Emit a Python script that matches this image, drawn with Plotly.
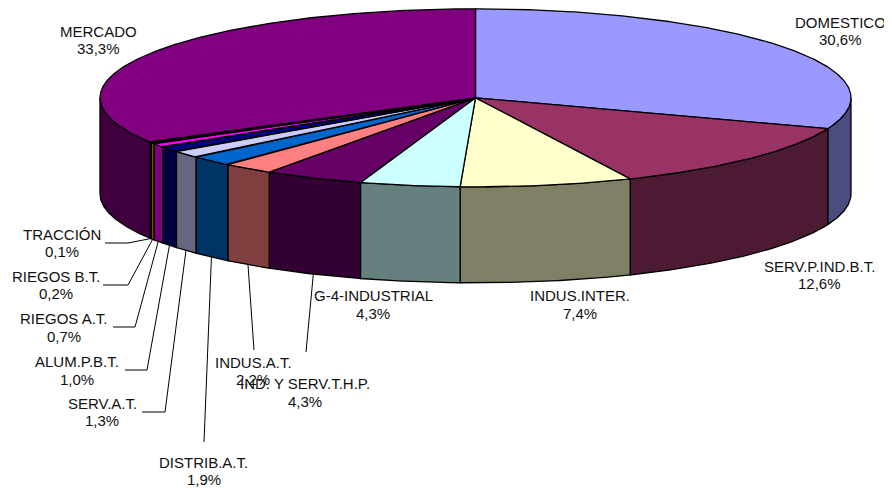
import numpy as np
import plotly.graph_objects as go

# ---- data ----
labels = ["DOMESTICO", "SERV.P.IND.B.T.", "INDUS.INTER.", "G-4-INDUSTRIAL",
          "IND. Y SERV.T.H.P.", "INDUS.A.T.", "DISTRIB.A.T.", "SERV.A.T.",
          "ALUM.P.B.T.", "RIEGOS A.T.", "RIEGOS B.T.", "TRACCIÓN", "MERCADO"]
values = [30.6, 12.6, 7.4, 4.3, 4.3, 2.2, 1.9, 1.3, 1.0, 0.7, 0.2, 0.1, 33.3]
pct_text = ["30,6%", "12,6%", "7,4%", "4,3%", "4,3%", "2,2%", "1,9%", "1,3%",
            "1,0%", "0,7%", "0,2%", "0,1%", "33,3%"]
top_colors = ["#9999FF", "#993366", "#FFFFCC", "#CCFFFF", "#660066", "#FF8080",
              "#0066CC", "#CCCCFF", "#000080", "#FF00FF", "#FFFF00", "#00FFFF", "#800080"]
side_colors = ["#4C4C80", "#4D1A33", "#808066", "#668080", "#330033", "#804040",
               "#003366", "#666680", "#000040", "#800080", "#808000", "#008080", "#400040"]

# ---- layout constants (page pixel space; body has 8px margin) ----
PAGE_W, PAGE_H = 892, 488
OFF = 8
CX, CY, RX, RY, DEPTH = 475.5, 97.8, 375.5, 89, 96
PITCH = 17.5
FONT = dict(family="Liberation Sans, Arial", size=15, color="#111111")

# centre of the name line of each label
label_pos = {
    "DOMESTICO": (840, 22), "SERV.P.IND.B.T.": (819, 266), "INDUS.INTER.": (580, 295.5),
    "G-4-INDUSTRIAL": (373, 295.5), "IND. Y SERV.T.H.P.": (305, 383.5), "INDUS.A.T.": (253, 362),
    "DISTRIB.A.T.": (203.5, 462), "SERV.A.T.": (102, 403), "ALUM.P.B.T.": (77, 361.5),
    "RIEGOS A.T.": (63.5, 318.5), "RIEGOS B.T.": (55.5, 276), "TRACCIÓN": (61.5, 234),
    "MERCADO": (98, 31),
}
# leader start: (x0, y0, x1) -> horizontal from x0 to x1 at y0, then to the slice
leaders = {
    "TRACCIÓN": (105, 243, 128), "RIEGOS B.T.": (103, 285, 128),
    "RIEGOS A.T.": (113, 327, 135), "ALUM.P.B.T.": (125, 370, 147),
    "SERV.A.T.": (142, 412, 165), "DISTRIB.A.T.": (204, 442, 204),
    "INDUS.A.T.": (254, 350, 254), "IND. Y SERV.T.H.P.": (306, 352, 306),
}


def pt(theta_deg, dy=0.0):
    t = np.radians(theta_deg)
    return CX + RX * np.sin(t), CY - RY * np.cos(t) + dy


fig = go.Figure()
total = sum(values)
angles = []
cum = 0.0
for v in values:
    a0 = cum / total * 360
    cum += v
    a1 = cum / total * 360
    angles.append((a0, a1))

LINE = dict(color="black", width=1.3)

# side walls (front half only)
for i, (a0, a1) in enumerate(angles):
    lo, hi = max(a0, 90), min(a1, 270)
    if hi > lo:
        th = np.linspace(lo, hi, max(2, int((hi - lo) * 3) + 2))
        xt, yt = pt(th)
        xb, yb = pt(th[::-1], DEPTH)
        xs = np.concatenate([xt, xb, [xt[0]]])
        ys = np.concatenate([yt, yb, [yt[0]]])
        fig.add_trace(go.Scatter(x=xs, y=ys, mode="lines", fill="toself",
                                 fillcolor=side_colors[i], line=LINE,
                                 hoverinfo="skip", showlegend=False))

# top faces
for i, (a0, a1) in enumerate(angles):
    th = np.linspace(a0, a1, max(2, int((a1 - a0) * 3) + 2))
    xt, yt = pt(th)
    xs = np.concatenate([[CX], xt, [CX]])
    ys = np.concatenate([[CY], yt, [CY]])
    fig.add_trace(go.Scatter(x=xs, y=ys, mode="lines", fill="toself",
                             fillcolor=top_colors[i], line=LINE,
                             hoverinfo="text", text=f"{labels[i]} {pct_text[i]}",
                             showlegend=False))

# leader lines
for i, lab in enumerate(labels):
    if lab in leaders:
        x0, y0, x1 = leaders[lab]
        a0, a1 = angles[i]
        ax, ay = pt((a0 + a1) / 2, DEPTH)
        fig.add_trace(go.Scatter(x=[x0, x1, ax], y=[y0, y0, ay], mode="lines",
                                 line=dict(color="black", width=1),
                                 hoverinfo="skip", showlegend=False))

# labels (name line + percentage line)
for i, lab in enumerate(labels):
    x, y = label_pos[lab]
    for k, txt in enumerate([lab, pct_text[i]]):
        fig.add_annotation(x=x, y=y + k * PITCH, xref="x", yref="y", text=txt,
                           showarrow=False, xanchor="center", yanchor="middle",
                           font=FONT)

fig.update_layout(
    width=PAGE_W - OFF, height=PAGE_H - OFF, margin=dict(l=0, r=0, t=0, b=0),
    paper_bgcolor="white", plot_bgcolor="white",
    xaxis=dict(range=[OFF, PAGE_W], visible=False, fixedrange=True),
    yaxis=dict(range=[PAGE_H, OFF], visible=False, fixedrange=True),
)
fig.write_html("out.html")
